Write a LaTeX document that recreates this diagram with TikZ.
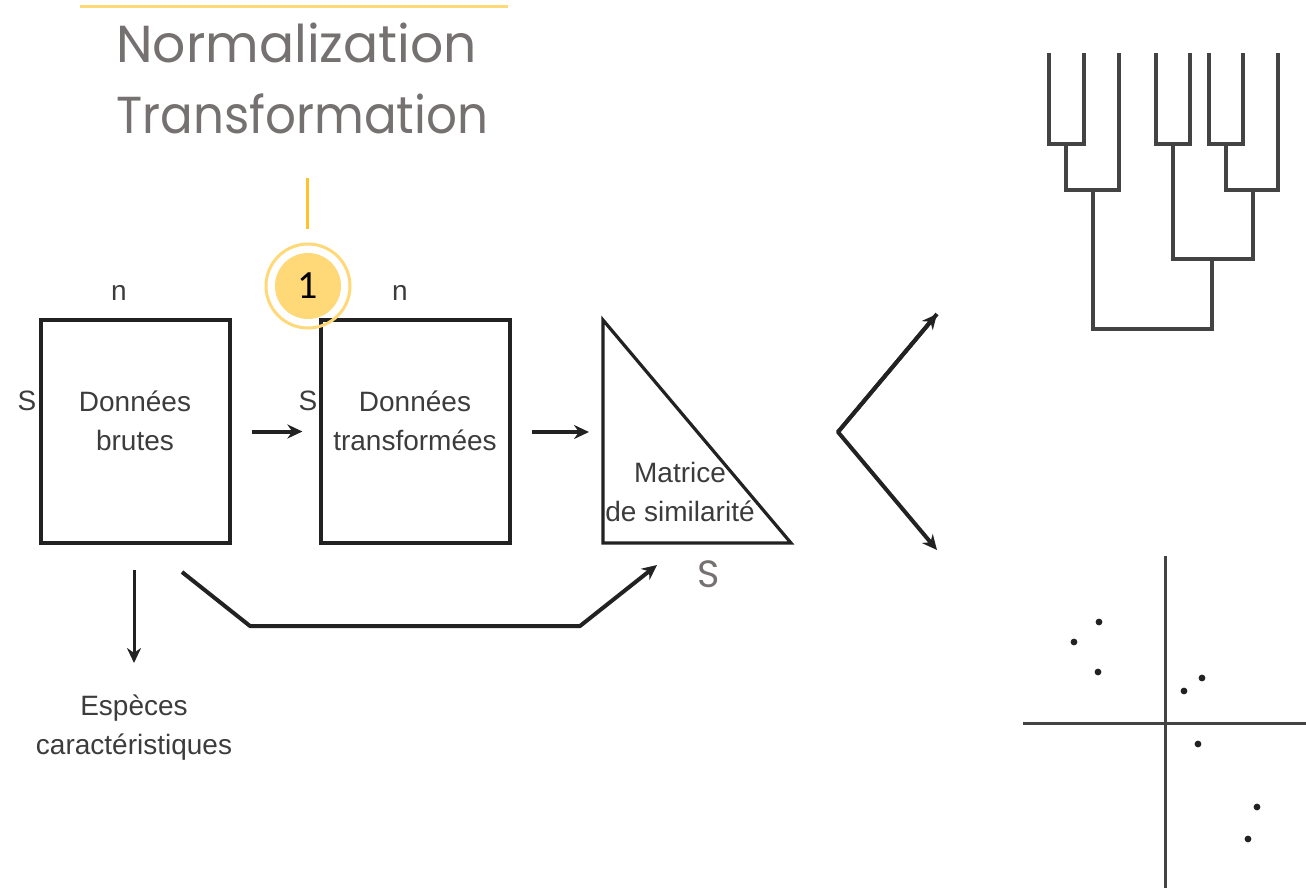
\documentclass[tikz,border=0pt]{standalone}
\usepackage{fontspec}
\setmainfont{Liberation Sans}
\newfontfamily\titlefont{Poppins}
\newfontfamily\numfont{Carlito}
\usetikzlibrary{arrows.meta}
\definecolor{ttlgray}{RGB}{118,113,113}
\definecolor{lyellow}{RGB}{255,217,120}
\definecolor{dyellow}{RGB}{255,194,40}
\definecolor{ink}{RGB}{34,34,34}
\definecolor{txt}{RGB}{60,60,60}
\begin{document}
\begin{tikzpicture}[x=0.5pt,y=-0.5pt,
  box/.style={draw=ink,line width=1.6pt,minimum width=94.5pt,minimum height=111.5pt,inner sep=0pt},
  lbl/.style={font=\fontsize{14}{19.5}\selectfont,text=txt,align=center,inner sep=0pt},
  arr/.style={draw=ink,line width=2pt,-{Stealth[length=7.5pt,width=7pt]}},
  tree/.style={draw=ink!85,line width=1.8pt},
  axis/.style={draw=ink!85,line width=1.5pt},
  dot/.style={fill=ink},
  ]
\useasboundingbox (0,0) rectangle (1306,891);

% title
\draw[lyellow,line width=1.5pt] (80,6) -- (508,6);
\node[font=\titlefont\fontsize{26}{35.5}\selectfont,text=ttlgray,align=left,anchor=west,inner sep=0pt] (title) at (116,78) {Normalization\\\scalebox{0.93}[1]{Transformation}};
\draw[dyellow,line width=1.5pt] (307,178) -- (307,229);

% boxes
\node[box] (b1) at (135.5,431.5) {};
\node[lbl] (t1) at (135,421) {Données\\brutes};
\node[lbl] (n1) at (119,293) {n};
\node[lbl] (s1) at (27,401) {S};

\node[box] (b2) at (415.5,431.5) {};
\node[lbl] (t2) at (415,421) {Données\\transformées};
\node[lbl] (n2) at (400,293) {n};
\node[lbl] (s2) at (308,401) {S};

% badge
\node[circle,fill=lyellow,minimum size=33pt,inner sep=0pt] (c1) at (308,286) {\numfont\fontsize{20}{20}\selectfont 1};
\draw[lyellow,line width=1.5pt] (c1.center) circle (21pt);

% triangle
\coordinate (ta) at (603,320);
\coordinate (tb) at (603,543);
\coordinate (tc) at (791,543);
\draw[ink,line width=1.6pt,line join=miter] (ta) -- (tb) -- (tc) -- cycle;
\node[lbl] (mat) at (680,492) {Matrice\\de similarité};
\node[font=\titlefont\fontsize{19}{19}\selectfont,text=ttlgray,inner sep=0pt] (sS) at (709,574) {S};

% arrows
\draw[arr] ([xshift=10pt]b1.east) -- ([xshift=-8.5pt]b2.west);
\coordinate (a2s) at (532,432);
\coordinate (a2e) at (589,432);
\draw[arr] (a2s) -- (a2e);

\coordinate (p0) at (182,572);
\coordinate (p1) at (250,626);
\coordinate (p2) at (580,626);
\coordinate (p3) at (657,565);
\draw[arr,line join=round] (p0) -- (p1) -- (p2) -- (p3);

\coordinate (d0) at (134,570);
\node[lbl] (esp) at (134,728) {Espèces\\caractéristiques};
\draw[arr,line width=1.5pt] (d0) -- (134,663);

\coordinate (v0) at (838,432);
\coordinate (v1) at (937,314);
\coordinate (v2) at (937,550);
\draw[arr,line join=round] (v1) -- (v0) -- (v2);
\draw[arr] (v0) -- (v1);

% dendrogram
\draw[tree] (1049,53) -- (1049,144) -- (1084,144) -- (1084,53);
\draw[tree] (1066,144) -- (1066,190) -- (1119,190) -- (1119,53);
\draw[tree] (1156,53) -- (1156,144) -- (1190,144) -- (1190,53);
\draw[tree] (1209,53) -- (1209,144) -- (1243,144) -- (1243,53);
\draw[tree] (1226,144) -- (1226,190) -- (1278,190) -- (1278,53);
\draw[tree] (1173,144) -- (1173,259) -- (1253,259) -- (1253,190);
\draw[tree] (1093,190) -- (1093,329) -- (1212,329) -- (1212,259);

% scatter
\draw[axis] (1165,556) -- (1165,888);
\draw[axis] (1023,723) -- (1306,723);
\foreach \px/\py in {1099/622,1074/642,1098/672,1184/691,1202/678,1198/744,1257/807,1248/839}
  \fill[dot] (\px,\py) circle (1.7pt);
\end{tikzpicture}
\end{document}
